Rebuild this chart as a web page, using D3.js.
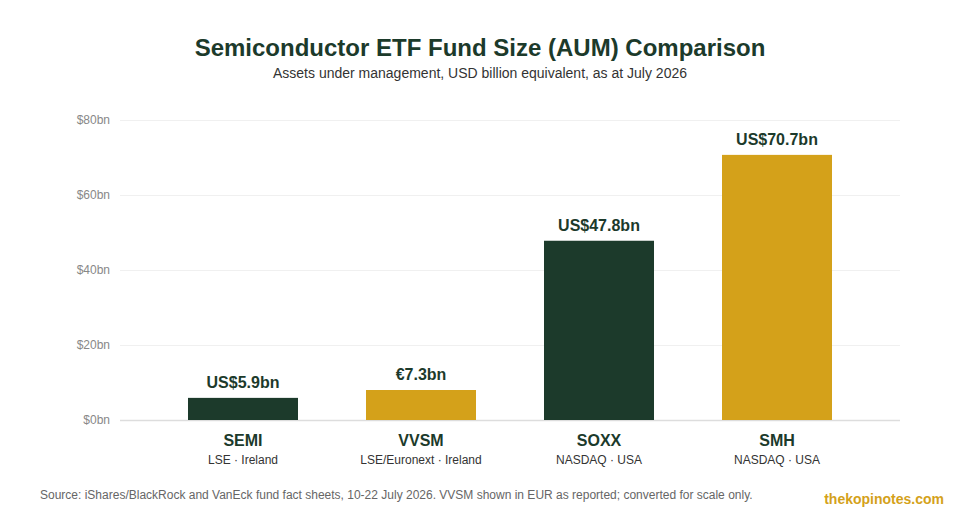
<!DOCTYPE html>
<html>
<head>
<meta charset="utf-8">
<script src="https://cdn.jsdelivr.net/npm/d3@7"></script>
<style>
  body { margin: 0; background: #fff; font-family: "Liberation Sans", Arial, sans-serif; }
  .title { font-size: 24px; font-weight: bold; fill: #1c3a2b; }
  .subtitle { font-size: 14px; fill: #333; }
  .tick text { font-size: 12px; fill: #888; }
  .vlabel { font-size: 16px; font-weight: bold; fill: #1c3a2b; }
  .cat { font-size: 16px; font-weight: bold; fill: #1c3a2b; }
  .sub { font-size: 12px; fill: #333; }
  .source { font-size: 12px; fill: #666; }
  .brand { font-size: 14px; fill: #d4a11a; font-weight: bold; }
</style>
</head>
<body>
<svg width="960" height="520"></svg>
<script>
// **** data ****
var tickers = ['SEMI', 'VVSM', 'SOXX', 'SMH'];
var listings = ['LSE \u00b7 Ireland', 'LSE/Euronext \u00b7 Ireland', 'NASDAQ \u00b7 USA', 'NASDAQ \u00b7 USA'];
var aumUsd = [5.9, 8.0, 47.8, 70.7];   // VVSM converted to USD for scale
var aumLabels = ['US$5.9bn', '\u20ac7.3bn', 'US$47.8bn', 'US$70.7bn'];
var yTicks = [0, 20, 40, 60, 80];

var dataset = tickers.map(function(t, i) {
    return { ticker: t, listing: listings[i], value: aumUsd[i], label: aumLabels[i] };
});

var svg = d3.select('svg');
var green = '#1c3a2b', gold = '#d4a11a';

// **** scales ****
var xScale = d3.scaleBand().domain(tickers).range([120, 900]).padding(0.382);
var yScale = d3.scaleLinear().domain([0, 80]).range([420, 120]);

// title
svg.append('text').attr('class', 'title')
    .attr('x', 480).attr('y', 56).attr('text-anchor', 'middle')
    .text('Semiconductor ETF Fund Size (AUM) Comparison');
svg.append('text').attr('class', 'subtitle')
    .attr('x', 480).attr('y', 78).attr('text-anchor', 'middle')
    .text('Assets under management, USD billion equivalent, as at July 2026');

// gridlines + y axis
var yAxis = svg.append('g').attr('class', 'y axis')
    .attr('transform', 'translate(120,0)')
    .call(d3.axisLeft(yScale).tickValues(yTicks)
        .tickSize(-780).tickPadding(10)
        .tickFormat(function(d) { return '$' + d + 'bn'; }));
yAxis.select('.domain').remove();
yAxis.selectAll('.tick line')
    .attr('stroke', function(d) { return d === 0 ? '#ddd' : '#f0f0f0'; })
    .attr('stroke-width', function(d) { return d === 0 ? 1.5 : 1; });

// bars
svg.selectAll('.bar')
    .data(dataset)
    .enter()
    .append('rect')
    .attr('class', 'bar')
    .attr('x', function(d) { return xScale(d.ticker); })
    .attr('width', xScale.bandwidth())
    .attr('y', function(d) { return yScale(d.value); })
    .attr('height', function(d) { return yScale(0) - yScale(d.value); })
    .attr('fill', function(d, i) { return i % 2 === 0 ? green : gold; });

// value labels
svg.selectAll('.vlabel')
    .data(dataset)
    .enter()
    .append('text')
    .attr('class', 'vlabel')
    .attr('text-anchor', 'middle')
    .attr('x', function(d) { return xScale(d.ticker) + xScale.bandwidth() / 2; })
    .attr('y', function(d) { return yScale(d.value) - 10; })
    .text(function(d) { return d.label; });

// category labels
var catG = svg.selectAll('.catg')
    .data(dataset)
    .enter()
    .append('g')
    .attr('transform', function(d) {
        return 'translate(' + (xScale(d.ticker) + xScale.bandwidth() / 2) + ',0)';
    });
catG.append('text').attr('class', 'cat')
    .attr('text-anchor', 'middle').attr('y', 446)
    .text(function(d) { return d.ticker; });
catG.append('text').attr('class', 'sub')
    .attr('text-anchor', 'middle').attr('y', 464)
    .text(function(d) { return d.listing; });

// footer
svg.append('text').attr('class', 'source')
    .attr('x', 40).attr('y', 499)
    .text('Source: iShares/BlackRock and VanEck fund fact sheets, 10-22 July 2026. VVSM shown in EUR as reported; converted for scale only.');
svg.append('text').attr('class', 'brand')
    .attr('x', 944).attr('y', 504).attr('text-anchor', 'end')
    .text('thekopinotes.com');
</script>
</body>
</html>
